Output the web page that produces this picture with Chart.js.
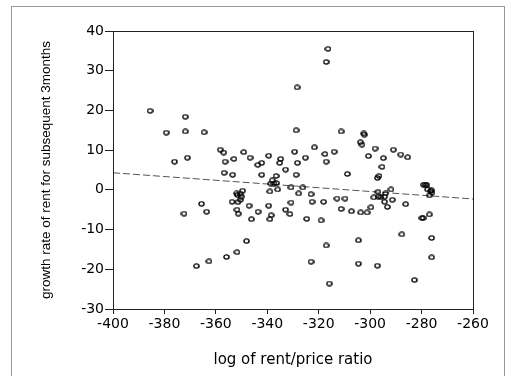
<!DOCTYPE html>
<html><head><meta charset="utf-8">
<script src="https://cdn.jsdelivr.net/npm/chart.js@4/dist/chart.umd.min.js"></script>
<style>
html,body{margin:0;padding:0;background:#fff;}
#wrap{position:relative;width:511px;height:376px;overflow:hidden;}
#frame{position:absolute;left:11px;top:6px;width:494px;height:400px;border:1px solid #999;box-sizing:border-box;}
canvas{position:absolute;left:0;top:0;}
</style></head><body>
<div id="wrap"><div id="frame"></div><canvas id="c" width="511" height="376"></canvas></div>
<script>
const xValues = [-385.6,-379.3,-376.1,-371.9,-371.9,-371.1,-372.4,-367.6,-365.6,-364.6,-363.6,-362.7,-358.3,-357.0,-356.4,-356.8,-355.9,-353.5,-353.0,-353.7,-351.9,-351.6,-351.4,-351.8,-351.3,-351.8,-350.6,-350.2,-350.5,-349.6,-349.2,-348.1,-347.1,-346.7,-346.2,-343.7,-343.6,-342.2,-342.2,-339.5,-339.5,-339.0,-339.0,-338.5,-338.7,-338.1,-337.4,-336.6,-336.5,-336.0,-335.2,-334.8,-332.9,-332.9,-330.8,-330.8,-331.2,-329.4,-328.8,-328.4,-328.8,-328.3,-327.8,-326.2,-325.2,-324.7,-323.0,-322.6,-323.0,-321.7,-319.1,-318.1,-317.6,-317.1,-317.1,-316.4,-317.1,-315.9,-314.0,-312.9,-311.3,-311.3,-309.8,-308.9,-307.3,-304.6,-304.6,-303.8,-303.7,-303.2,-302.5,-302.3,-301.2,-300.7,-299.7,-298.6,-298.1,-297.2,-296.6,-297.0,-296.8,-297.2,-295.8,-295.4,-294.9,-294.4,-294.4,-294.0,-293.3,-291.9,-291.4,-291.0,-288.1,-287.7,-286.2,-285.4,-282.8,-279.3,-278.6,-278.0,-279.4,-277.7,-277.0,-277.0,-276.6,-276.2,-276.1,-276.1,-276.0,-279.9];
const yValues = [19.9,14.4,7.1,18.4,14.7,8.1,-6.0,-19.2,-3.5,14.5,-5.5,-18.0,10.1,9.4,7.1,4.3,-16.9,3.8,7.8,-3.0,-0.9,-1.3,-3.1,-5.0,-6.0,-15.7,-1.0,-1.7,-2.5,-0.2,9.5,-12.9,-4.0,8.1,-7.4,6.3,-5.5,6.8,3.8,8.6,-4.0,-0.4,-7.4,-6.4,1.6,2.4,1.6,3.5,1.7,0.1,6.8,7.8,5.1,-5.0,0.6,-3.2,-6.1,9.6,15.0,25.8,3.8,6.8,-0.9,0.6,8.1,-7.3,-1.1,-3.0,-18.1,10.7,-7.7,-3.0,9.0,7.1,32.2,35.5,-14.0,-23.6,9.6,-2.2,14.7,-4.8,-2.2,4.0,-5.4,-12.7,-18.6,12.0,-5.7,11.4,14.2,13.9,-5.7,8.5,-4.4,-1.9,10.4,3.0,3.5,-0.5,-1.7,-19.1,-1.8,5.8,8.0,-3.0,-1.7,-0.9,-4.3,0.1,-2.5,10.1,8.9,-11.2,-3.6,8.2,-22.7,1.3,1.3,1.2,-7.1,0.1,-1.4,-6.2,-0.3,-0.1,-12.1,-17.0,-0.7,-7.1];
const fitX = [-400, -260];
const fitY = [4.3, -2.3];
const xTitle = 'log of rent/price ratio';
const yTitle = 'growth rate of rent for subsequent 3months';

function makeMarker(w, h) {
  const c = document.createElement('canvas');
  c.width = w; c.height = h;
  const g = c.getContext('2d');
  g.strokeStyle = '#000'; g.lineWidth = 1.4;
  g.beginPath();
  g.ellipse(w / 2, h / 2, w / 2 - 0.9, h / 2 - 0.9, 0, 0, Math.PI * 2);
  g.stroke();
  return c;
}
const marker = makeMarker(7, 6);

const boxPlugin = {
  id: 'box',
  afterDraw(chart) {
    const {ctx, chartArea: a} = chart;
    ctx.save();
    ctx.strokeStyle = '#222';
    ctx.lineWidth = 1;
    ctx.strokeRect(Math.round(a.left) + 0.5, Math.round(a.top) + 0.5, Math.round(a.right - a.left), Math.round(a.bottom - a.top));
    ctx.restore();
  }
};

const tickFont = {family: 'DejaVu Sans', size: 14};
new Chart(document.getElementById('c'), {
  type: 'scatter',
  data: {
    datasets: [
      {
        data: xValues.map((x, i) => ({x, y: yValues[i]})),
        pointStyle: marker,
        pointRadius: 3,
        pointHoverRadius: 3
      },
      {
        type: 'line',
        data: fitX.map((x, i) => ({x, y: fitY[i]})),
        borderColor: '#555',
        borderWidth: 1,
        borderDash: [7, 3],
        pointRadius: 0,
        fill: false
      }
    ]
  },
  options: {
    responsive: false,
    animation: false,
    events: [],
    layout: {padding: {top: 31, right: 38, left: 0, bottom: 0}},
    plugins: {legend: {display: false}, tooltip: {enabled: false}},
    scales: {
      x: {
        type: 'linear', min: -400, max: -260,
        ticks: {stepSize: 20, color: '#000', font: tickFont, padding: 2, maxRotation: 0},
        grid: {drawOnChartArea: false, drawTicks: true, tickLength: 5, color: '#222'},
        border: {display: true, color: '#222'},
        title: {display: true, text: xTitle, color: '#000', font: {family: 'DejaVu Sans', size: 15}, padding: {top: 0, bottom: 7}},
        afterFit(s) { s.height = 67; }
      },
      y: {
        type: 'linear', min: -30, max: 40,
        ticks: {stepSize: 10, color: '#000', font: tickFont, padding: 1},
        grid: {drawOnChartArea: false, drawTicks: true, tickLength: 8, color: '#222'},
        border: {display: true, color: '#222'},
        title: {display: true, text: yTitle, color: '#000', font: {family: 'Liberation Sans', size: 13.5}, padding: {top: 38, bottom: 0}},
        afterFit(s) { s.width = 113; }
      }
    }
  },
  plugins: [boxPlugin]
});
</script>
</body></html>
